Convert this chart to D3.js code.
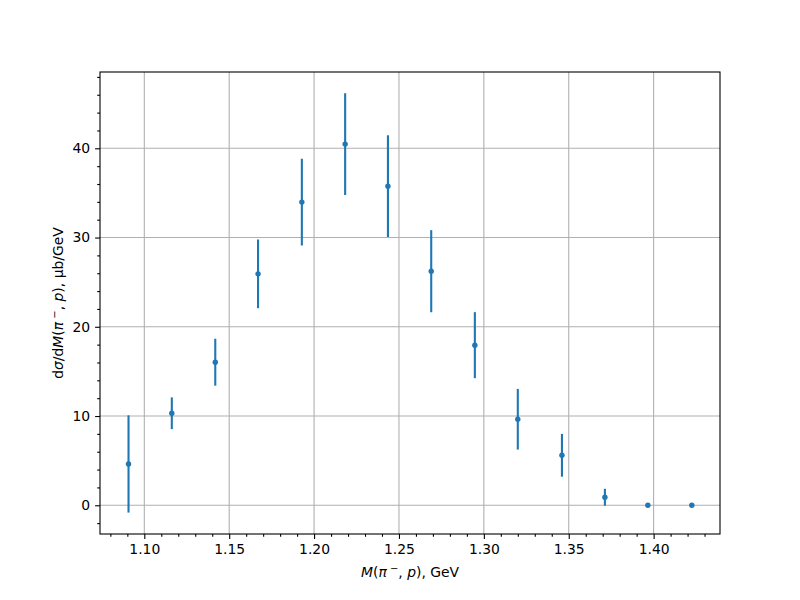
<!DOCTYPE html>
<html><head><meta charset="utf-8">
<script src="https://cdn.jsdelivr.net/npm/d3@7"></script>
<style>body{margin:0;background:#fff}svg{display:block}text{font-family:"DejaVu Sans",sans-serif}</style>
</head><body>
<svg id="c" width="800" height="600"></svg>
<script>
const massGeV = [1.0907, 1.1162, 1.1418, 1.167, 1.1928, 1.2183, 1.2435, 1.269, 1.2947, 1.32, 1.346, 1.3713, 1.3966, 1.4225];
const dsigma = [4.63, 10.31, 16.03, 25.93, 33.97, 40.47, 35.76, 26.23, 17.94, 9.64, 5.6, 0.9, 0.0, 0.0];
const dsigmaErr = [5.45, 1.78, 2.63, 3.85, 4.86, 5.7, 5.7, 4.6, 3.7, 3.4, 2.4, 0.95, 0.0, 0.0];
const xTicks = [1.10, 1.15, 1.20, 1.25, 1.30, 1.35, 1.40];
const yTicks = [0, 10, 20, 30, 40];

const svg = d3.select("#c");
const L = 100, R = 720, T = 72, B = 534;
const x = d3.scaleLinear().domain([1.0739, 1.4391]).range([L, R]);
const y = d3.scaleLinear().domain([-3.22, 48.55]).range([B, T]);
const C0 = "#1f77b4";

// grid
const g = svg.append("g");
g.selectAll(".gx").data(xTicks).join("line")
  .attr("x1", d => x(d)).attr("x2", d => x(d)).attr("y1", T).attr("y2", B)
  .attr("stroke", "#b0b0b0").attr("stroke-width", 1.1);
g.selectAll(".gy").data(yTicks).join("line")
  .attr("y1", d => y(d)).attr("y2", d => y(d)).attr("x1", L).attr("x2", R)
  .attr("stroke", "#b0b0b0").attr("stroke-width", 1.1);

// error bars
svg.append("g").selectAll("line").data(massGeV).join("line")
  .attr("x1", d => x(d)).attr("x2", d => x(d))
  .attr("y1", (d, i) => y(dsigma[i] - dsigmaErr[i]))
  .attr("y2", (d, i) => y(dsigma[i] + dsigmaErr[i]))
  .attr("stroke", C0).attr("stroke-width", 2.1);
svg.append("g").selectAll("circle").data(massGeV).join("circle")
  .attr("cx", d => x(d)).attr("cy", (d, i) => y(dsigma[i]))
  .attr("r", 2.7).attr("fill", C0);

// axes
const xMinor = d3.range(1.08, 1.4391, 0.01).filter(v => !xTicks.some(t => Math.abs(t - v) < 1e-6));
const yMinor = d3.range(-2, 48.5, 2).filter(v => v % 10 !== 0);
const xa = svg.append("g").attr("transform", `translate(0,${B})`)
  .call(d3.axisBottom(x).tickValues(xTicks).tickFormat(d3.format(".2f")).tickSize(4.9).tickPadding(4.9));
const xm = svg.append("g").attr("transform", `translate(0,${B})`)
  .call(d3.axisBottom(x).tickValues(xMinor).tickFormat("").tickSize(2.8));
const ya = svg.append("g").attr("transform", `translate(${L},0)`)
  .call(d3.axisLeft(y).tickValues(yTicks).tickFormat(d3.format("d")).tickSize(4.9).tickPadding(4.9));
const ym = svg.append("g").attr("transform", `translate(${L},0)`)
  .call(d3.axisLeft(y).tickValues(yMinor).tickFormat("").tickSize(2.8));
[xa, xm, ya, ym].forEach(a => {
  a.select(".domain").remove();
  a.selectAll("line").attr("stroke", "#000").attr("stroke-width", 1.1);
  a.selectAll("text").attr("font-size", 13.9).attr("fill", "#000").attr("font-family", "DejaVu Sans");
});

svg.append("rect").attr("x", L).attr("y", T).attr("width", R - L).attr("height", B - T)
  .attr("fill", "none").attr("stroke", "#000").attr("stroke-width", 1.1);

// labels
const xl = svg.append("text").attr("x", (L + R) / 2).attr("y", 577).attr("text-anchor", "middle").attr("font-size", 13.9);
xl.append("tspan").attr("font-style", "italic").text("M");
xl.append("tspan").text("(");
xl.append("tspan").attr("font-style", "italic").text("π");
xl.append("tspan").attr("font-size", 10).attr("dy", -5).text(" −");
xl.append("tspan").attr("dy", 5).text(", ");
xl.append("tspan").attr("font-style", "italic").text("p");
xl.append("tspan").text("), GeV");

const yl = svg.append("text").attr("transform", `translate(63,${(T + B) / 2}) rotate(-90)`)
  .attr("text-anchor", "middle").attr("font-size", 13.9);
yl.append("tspan").text("d");
yl.append("tspan").attr("font-style", "italic").text("σ");
yl.append("tspan").text("/d");
yl.append("tspan").attr("font-style", "italic").text("M");
yl.append("tspan").text("(");
yl.append("tspan").attr("font-style", "italic").text("π");
yl.append("tspan").attr("font-size", 10).attr("dy", -5).text(" −");
yl.append("tspan").attr("dy", 5).text(", ");
yl.append("tspan").attr("font-style", "italic").text("p");
yl.append("tspan").text("), μb/GeV");
</script>
</body></html>
